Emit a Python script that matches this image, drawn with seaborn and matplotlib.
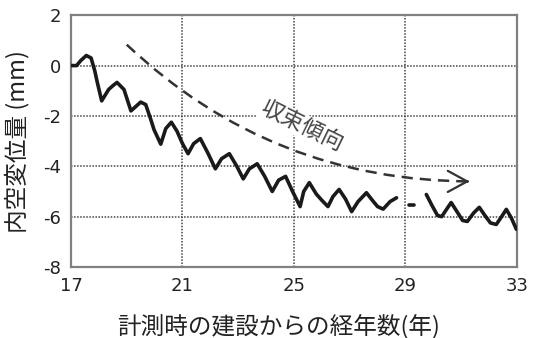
import numpy as np
import pandas as pd
import matplotlib
matplotlib.use("Agg")
import matplotlib.pyplot as plt
from matplotlib.path import Path
from matplotlib.patches import PathPatch
import seaborn as sns

# Measured convergence (inner-space displacement) vs. years since construction
years_a = [17.00, 17.20, 17.35, 17.55, 17.72, 17.85, 17.95, 18.10, 18.35, 18.50,
           18.65, 18.90, 19.15, 19.35, 19.50, 19.68, 19.85, 19.98, 20.22, 20.40,
           20.60, 20.80, 21.00, 21.20, 21.40, 21.64, 21.90, 22.18, 22.40, 22.68,
           22.95, 23.18, 23.40, 23.68, 23.95, 24.22, 24.45, 24.70, 24.95, 25.22,
           25.35, 25.55, 25.80, 26.00, 26.22, 26.40, 26.62, 26.85, 27.07, 27.30,
           27.60, 27.85, 28.00, 28.20, 28.45, 28.68]
disp_a = [0.00, 0.00, 0.20, 0.40, 0.30, -0.20, -0.70, -1.40, -0.95, -0.80,
          -0.67, -0.95, -1.80, -1.60, -1.45, -1.55, -2.10, -2.55, -3.12, -2.50,
          -2.25, -2.60, -3.10, -3.50, -3.10, -2.90, -3.45, -4.10, -3.70, -3.50,
          -4.00, -4.50, -4.10, -3.90, -4.40, -5.00, -4.55, -4.40, -5.00, -5.60,
          -5.00, -4.65, -5.10, -5.35, -5.60, -5.20, -4.92, -5.30, -5.80, -5.40,
          -5.05, -5.40, -5.60, -5.70, -5.40, -5.25]

years_b = [29.14, 29.32]
disp_b = [-5.55, -5.55]

years_c = [29.75, 29.95, 30.15, 30.30, 30.45, 30.64, 30.85, 31.05, 31.22, 31.45,
           31.65, 31.85, 32.05, 32.26, 32.45, 32.62, 32.80, 32.98]
disp_c = [-5.12, -5.55, -5.95, -6.00, -5.75, -5.44, -5.80, -6.15, -6.19, -5.85,
          -5.63, -5.95, -6.25, -6.31, -6.00, -5.71, -6.05, -6.50]

x_ticks = [17, 21, 25, 29, 33]
y_ticks = [-8, -6, -4, -2, 0, 2]

sns.set_theme(style="white")
plt.rcParams["font.family"] = ["Noto Sans CJK JP", "DejaVu Sans"]
plt.rcParams["axes.unicode_minus"] = False

fig = plt.figure(figsize=(5.34, 3.38), dpi=100)
ax = fig.add_axes([0.133, 0.21, 0.835, 0.745])

for xs, ys in [(years_a, disp_a), (years_b, disp_b), (years_c, disp_c)]:
    df = pd.DataFrame({"year": xs, "disp": ys})
    sns.lineplot(data=df, x="year", y="disp", ax=ax, color="#1a1a1a",
                 linewidth=2.6, sort=False, estimator=None, zorder=4,
                 solid_joinstyle="round", solid_capstyle="round")

ax.set_xlim(17, 33)
ax.set_ylim(-8, 2)
ax.set_xticks(x_ticks)
ax.set_yticks(y_ticks)
ax.set_xticklabels([str(t) for t in x_ticks], fontsize=13, color="#222222",
                   family="DejaVu Sans")
ax.set_yticklabels([str(t) for t in y_ticks], fontsize=13, color="#222222",
                   family="DejaVu Sans")
ax.tick_params(axis="both", length=0, pad=7)

ax.grid(True, color="#444444", linestyle=(0, (1, 1)), linewidth=1.1)
for s in ax.spines.values():
    s.set_color("#808080")
    s.set_linewidth(1.6)

ax.set_xlabel("計測時の建設からの経年数(年)", fontsize=17, color="#222222")
ax.xaxis.set_label_coords(0.465, -0.238)
ax.xaxis.label.set_verticalalignment("center")
ax.set_ylabel("内空変位量 (mm)", fontsize=17, color="#222222")
ax.yaxis.set_label_coords(-0.12, 0.5)
ax.yaxis.label.set_verticalalignment("center")

# Trend arrow showing convergence
p0, p1, p2 = (19.0, 0.83), (24.2, -4.6), (31.4, -4.6)
trend = Path([p0, p1, p2], [Path.MOVETO, Path.CURVE3, Path.CURVE3])
ax.add_patch(PathPatch(trend, fill=False, edgecolor="#333333", linewidth=1.8,
                       linestyle=(0, (4.5, 2.8)), zorder=3))
ax.annotate("", xy=p2, xytext=(p2[0] - 0.3, p2[1]),
            arrowprops=dict(arrowstyle="->,head_length=0.7,head_width=0.38",
                            color="#333333", lw=1.6, mutation_scale=20))
ax.text(25.3, -2.4, "収束傾向", fontsize=16, color="#444444", rotation=-26,
        ha="center", va="center", zorder=5,
        bbox=dict(facecolor="white", edgecolor="none", pad=0.5))

fig.savefig("out.png", dpi=100)
